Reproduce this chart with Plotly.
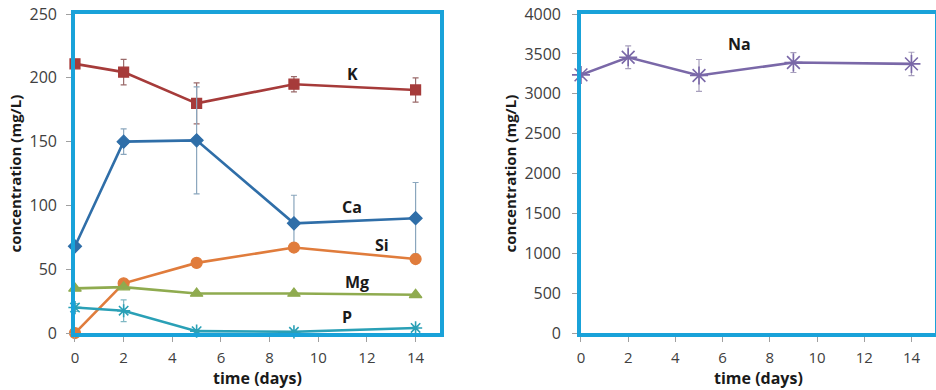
import plotly.graph_objects as go

# Sampling days
days = [0, 2, 5, 9, 14]

# Element concentrations (mg/L) and their standard deviations
k_vals = [211, 204.5, 180, 195, 190.5]
k_err = [2, 10, 16, 6, 9.5]
ca_vals = [68, 150, 151, 86, 90]
ca_err = [0, 10, 42, 22, 28]
si_vals = [0, 39, 55, 67, 58]
si_err = [0, 2, 2, 2, 2]
mg_vals = [35, 36, 31, 31, 30]
mg_err = [1, 1, 1, 1, 1]
p_vals = [20, 17.5, 1.5, 1, 4]
p_err = [3, 8.5, 1, 1, 1]
na_vals = [3237, 3458, 3230, 3392, 3375]
na_err = [30, 142, 200, 125, 146]

x_ticks = [0, 2, 4, 6, 8, 10, 12, 14]

FRAME = "#19a2d9"
TICKC = "#404040"
FONT = "Open Sans, Liberation Sans, Arial, sans-serif"

fig = go.Figure()


def add_series(vals, err, color, err_color, symbol, size, xa, ya, lw=1.2):
    fig.add_trace(go.Scatter(
        x=days, y=vals, mode="lines+markers",
        line=dict(color=color, width=2.6),
        marker=dict(symbol=symbol, size=size, color=color,
                    line=dict(color=color, width=lw)),
        error_y=dict(type="data", array=err, visible=True,
                     color=err_color, thickness=1.2, width=3),
        cliponaxis=False, showlegend=False,
        xaxis=xa, yaxis=ya,
    ))


add_series(k_vals, k_err, "#a63b3a", "#9a6a6a", "square", 10, "x", "y")
add_series(ca_vals, ca_err, "#2f6ea8", "#8aa6bd", "diamond", 10, "x", "y")
add_series(si_vals, si_err, "#e07c3c", "#c9a080", "circle", 11, "x", "y")
add_series(mg_vals, mg_err, "#8fab4f", "#a8b890", "triangle-up", 11, "x", "y")
add_series(p_vals, p_err, "#2aa0b6", "#7fb8c4", "asterisk-open", 11, "x", "y", lw=1.6)
add_series(na_vals, na_err, "#7a68a8", "#a8a0bd", "asterisk-open", 15, "x2", "y2", lw=1.6)

axis_common = dict(
    showline=True, mirror=True, linecolor=FRAME, linewidth=3.5,
    showgrid=False, zeroline=False, automargin=False,
    ticks="outside", ticklen=5, tickcolor="#a0a0a0", tickwidth=1,
    tickfont=dict(family=FONT, size=16, color=TICKC),
)

xtick_font = dict(family=FONT, size=15, color=TICKC)
ytitle_font = dict(family=FONT, size=15, color="#1a1a1a")

fig.update_layout(
    width=936, height=390,
    margin=dict(l=0, r=0, t=0, b=0),
    paper_bgcolor="white", plot_bgcolor="white",
    xaxis=dict(domain=[0.0801, 0.470], range=[0, 15], tickvals=x_ticks,
               ticklabelstandoff=3, anchor="y", **axis_common),
    yaxis=dict(domain=[0.146, 0.964], range=[0, 250], dtick=50,
               ticklabelstandoff=6,
               title=dict(text="<b>concentration (mg/L)</b>", font=ytitle_font, standoff=5),
               anchor="x", **axis_common),
    xaxis2=dict(domain=[0.6207, 0.999], range=[0, 15], tickvals=x_ticks,
                ticklabelstandoff=3, anchor="y2", **axis_common),
    yaxis2=dict(domain=[0.146, 0.964], range=[0, 4000], dtick=500,
                ticklabelstandoff=8,
                title=dict(text="<b>concentration (mg/L)</b>", font=ytitle_font, standoff=5),
                anchor="x2", **axis_common),
)
fig.update_xaxes(tickfont=xtick_font)

# x-axis titles, placed under each panel's tick labels
for xref in ("x domain", "x2 domain"):
    fig.add_annotation(x=0.5, y=0.0, xref=xref, yref="paper",
                       text="<b>time (days)</b>", showarrow=False,
                       yanchor="bottom", yshift=0, borderpad=0,
                       font=dict(family=FONT, size=16, color="#1a1a1a"))

labels = [
    ("K", 11.4, 203, "x", "y"),
    ("Ca", 11.4, 99, "x", "y"),
    ("Si", 12.6, 69, "x", "y"),
    ("Mg", 11.6, 40, "x", "y"),
    ("P", 11.2, 12.5, "x", "y"),
    ("Na", 6.7, 3620, "x2", "y2"),
]
for text, lx, ly, xr, yr in labels:
    fig.add_annotation(x=lx, y=ly, xref=xr, yref=yr, text=f"<b>{text}</b>",
                       showarrow=False,
                       font=dict(family=FONT, size=16, color="#1a1a1a"))

fig.write_html("out.html")
